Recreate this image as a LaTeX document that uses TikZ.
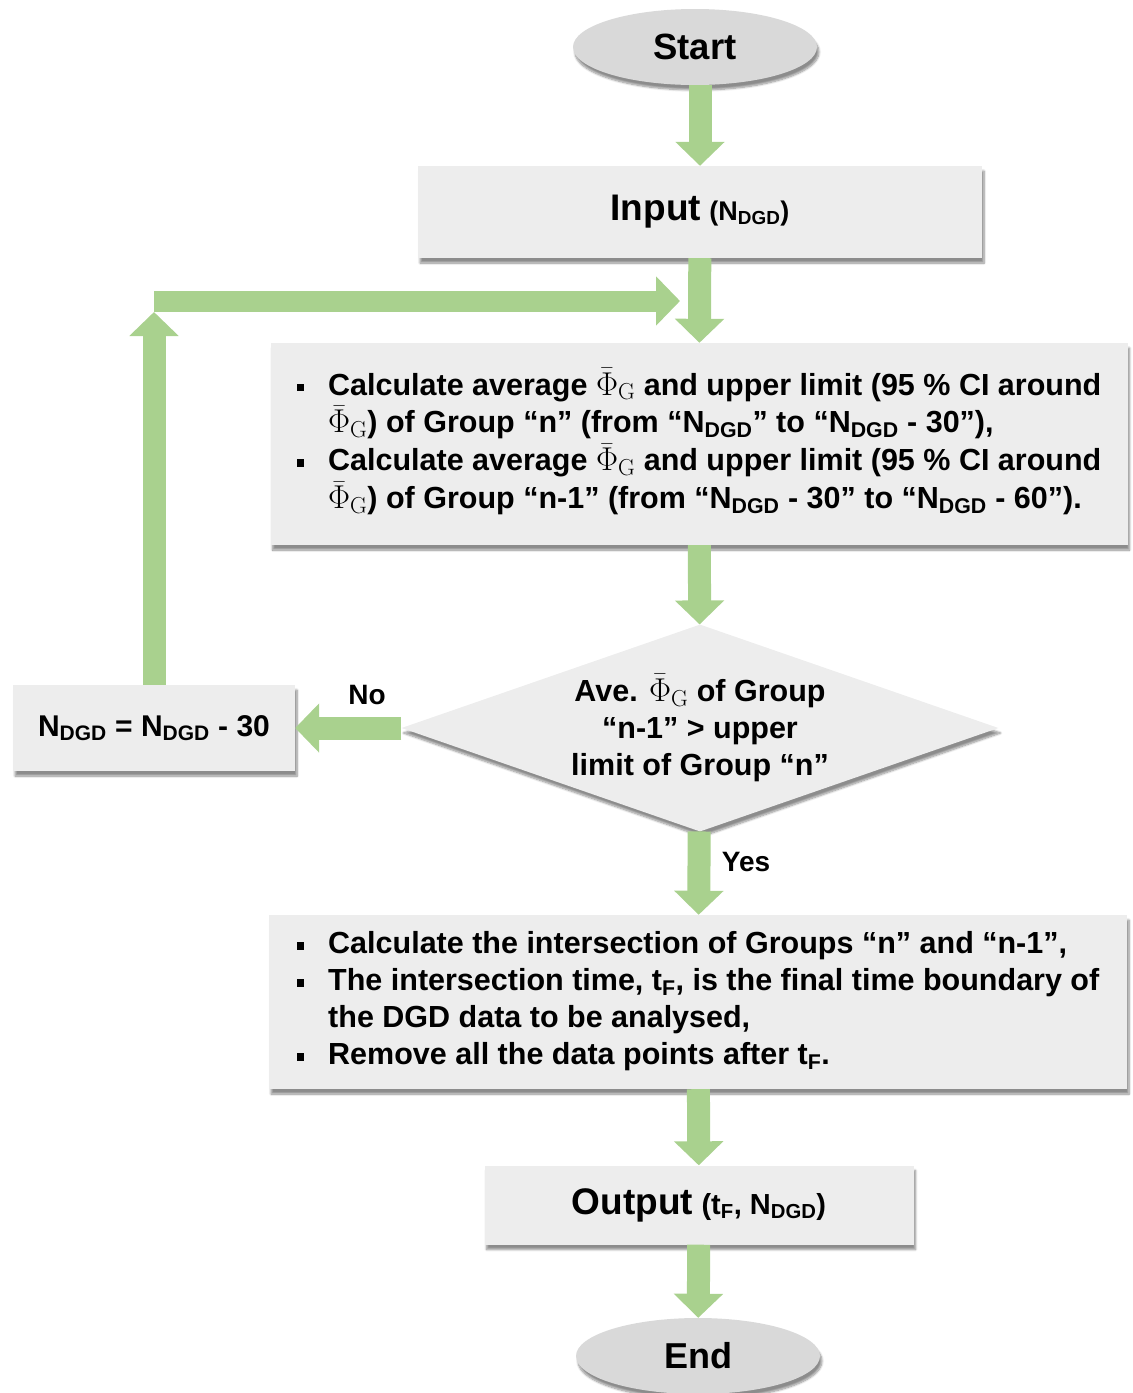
\RequirePackage{fix-cm}
\documentclass[tikz,border=0pt]{standalone}
\usepackage[no-math]{fontspec}
\setmainfont{Liberation Sans}
\usetikzlibrary{arrows.meta,shapes.geometric,shadows.blur}
\definecolor{leaf}{HTML}{A9D18E}
\definecolor{panel}{HTML}{EDEDED}
\definecolor{cap}{HTML}{D9D9D9}
\newcommand\fsz[2]{\fontsize{#1}{#2}\selectfont}
\newcommand\sqbul{\rule[4pt]{7.5pt}{7.5pt}}
\newcommand\ndgd{N\textsubscript{DGD}}
\newcommand\phig{{\fsz{33}{37}$\bar{\Phi}_{\mathrm{G}}$}}
\tikzset{
  every picture/.style={font=\bfseries\fsz{30.5}{37}},
  shade/.style={blur shadow={shadow xshift=2pt, shadow yshift=-5pt, shadow blur steps=8, shadow opacity=45}},
  box/.style={fill=panel, inner sep=0pt, align=center, shade},
  term/.style={ellipse, fill=cap, inner sep=0pt, shade},
  choice/.style={diamond, aspect=2.9, fill=panel, inner sep=0pt, align=center, shade},
  flow/.style={draw=leaf, line width=23pt, -{Triangle[length=24pt, width=48pt]}},
  tag/.style={inner sep=0pt, font=\bfseries\fsz{28}{34}},
}

\begin{document}
\begin{tikzpicture}[x=1pt, y=-1pt]
\useasboundingbox (0,0) rectangle (1133,1393);
\node[term, minimum width=244pt, minimum height=76pt, font=\bfseries\fsz{36.5}{42}] (start) at (695,47) {Start};
\node[box, minimum width=564pt, minimum height=92pt] (input) at (700,212) {{\fsz{37}{44}Input} {\fsz{27}{32}(\ndgd)}};
\node[box, minimum width=857pt, minimum height=202pt] (calc) at (699,444) {%
  \begin{tabular}{@{}l@{\hspace{24pt}}l@{}}
  \sqbul & Calculate average \phig{} and upper limit (95 \% CI around\\
         & \phig) of Group “n” (from “\ndgd” to “\ndgd{} - 30”),\\
  \sqbul & Calculate average \phig{} and upper limit (95 \% CI around\\
         & \phig) of Group “n-1” (from “\ndgd{} - 30” to “\ndgd{} - 60”).
  \end{tabular}};
\node[choice, minimum width=597pt, minimum height=207pt] (test) at (700,728) {Ave. \phig{} of Group\\“n-1” > upper\\limit of Group “n”};
\node[box, minimum width=282pt, minimum height=86pt, font=\bfseries\fsz{30}{36}] (reduce) at (154,728) {\ndgd{} = \ndgd{} - 30};
\node[box, minimum width=858pt, minimum height=174pt] (find) at (698,1002) {%
  \begin{tabular}{@{}l@{\hspace{24pt}}l@{}}
  \sqbul & Calculate the intersection of Groups “n” and “n-1”,\\
  \sqbul & The intersection time, t\textsubscript{F}, is the final time boundary of\\
         & the DGD data to be analysed,\\
  \sqbul & Remove all the data points after t\textsubscript{F}.
  \end{tabular}};
\node[box, minimum width=429pt, minimum height=79pt] (output) at (699,1205) {{\fsz{37}{44}Output} {\fsz{29}{34}(t\textsubscript{F}, \ndgd)}};
\node[term, minimum width=244pt, minimum height=76pt, font=\bfseries\fsz{36}{42}] (end) at (698,1356) {End};
\node[tag] (no) at (367,695) {No};
\node[tag] (yes) at (746,862) {Yes};
\coordinate (up) at (154,312);
\coordinate (corner) at (154,301);
\coordinate (join) at (680,301);
% main column
\draw[flow] (start.south -| input) -- (input);
\draw[flow] (input) -- (calc);
\draw[flow] (calc) -- (test);
\draw[flow] (test) -- (find);
\draw[flow] (find) -- (output);
\draw[flow] (output) -- (end);
% loop back
\draw[flow] (test.west) -- (reduce.east);
\draw[flow] (reduce.north) -- (up);
\draw[flow, line width=21pt] (corner) -- (join);
\end{tikzpicture}
\end{document}
